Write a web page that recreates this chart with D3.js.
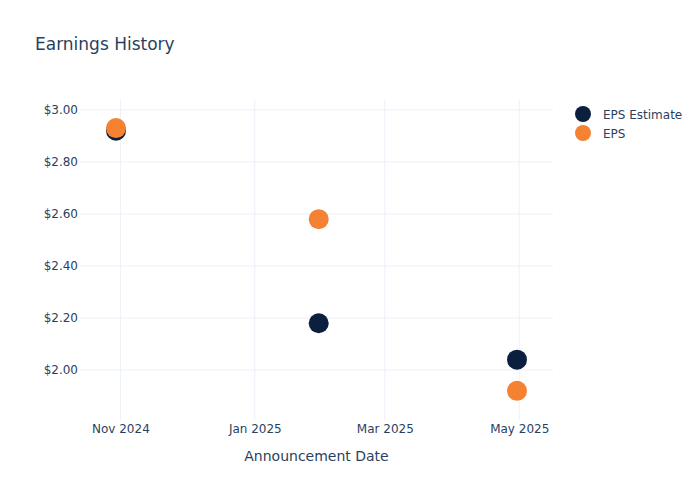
<!DOCTYPE html>
<html>
<head>
<meta charset="utf-8">
<script src="https://cdn.jsdelivr.net/npm/d3@7"></script>
<style>
  body { margin: 0; background: #fff; }
  svg, svg text { font-family: "DejaVu Sans", Verdana, sans-serif; }
</style>
</head>
<body>
<svg id="chart" width="700" height="500"></svg>
<script>
const dates = ["2024-10-30", "2025-01-30", "2025-04-30"];
const epsEstimate = [2.92, 2.18, 2.04];
const eps = [2.93, 2.58, 1.92];
const yTicks = [2.0, 2.2, 2.4, 2.6, 2.8, 3.0];
const xTickDates = ["2024-11-01", "2025-01-01", "2025-03-01", "2025-05-01"];
const seriesNames = ["EPS Estimate", "EPS"];
const seriesColors = ["#0c1f3f", "#f58233"];

const parse = d3.utcParse("%Y-%m-%d");
const svg = d3.select("#chart");
const m = { l: 80, r: 147, t: 100, b: 80 };
const W = 700, H = 500;

const x = d3.scaleUtc()
  .domain([parse("2024-10-13").getTime() + 16 * 3600e3, parse("2025-05-16").getTime() + 8 * 3600e3])
  .range([m.l, W - m.r]);
const y = d3.scaleLinear().domain([1.808, 3.038]).range([H - m.b, m.t]);

const textColor = "#2a3f5f";
const gridColor = "#ebf0f8";
const fontFam = '"DejaVu Sans", Verdana, sans-serif';

// grid
svg.append("g").selectAll("line").data(yTicks).join("line")
  .attr("x1", m.l).attr("x2", W - m.r)
  .attr("y1", d => y(d)).attr("y2", d => y(d))
  .attr("stroke", gridColor).attr("stroke-width", 1);
svg.append("g").selectAll("line").data(xTickDates).join("line")
  .attr("x1", d => x(parse(d))).attr("x2", d => x(parse(d)))
  .attr("y1", m.t).attr("y2", H - m.b)
  .attr("stroke", gridColor).attr("stroke-width", 1);

// axes
const yAxis = d3.axisLeft(y).tickValues(yTicks).tickSize(0).tickPadding(2)
  .tickFormat(d => "$" + d3.format(".2f")(d));
const gy = svg.append("g").attr("transform", `translate(${m.l},0)`).call(yAxis)
  .attr("font-family", fontFam).attr("font-size", 12);
gy.select(".domain").remove();
gy.selectAll("text").attr("fill", textColor);

const xAxis = d3.axisBottom(x).tickValues(xTickDates.map(parse)).tickSize(0).tickPadding(4)
  .tickFormat(d3.utcFormat("%b %Y"));
const gx = svg.append("g").attr("transform", `translate(0,${H - m.b})`).call(xAxis)
  .attr("font-family", fontFam).attr("font-size", 12);
gx.select(".domain").remove();
gx.selectAll("text").attr("fill", textColor);

// axis title
svg.append("text").attr("x", (m.l + W - m.r) / 2).attr("y", 461)
  .attr("text-anchor", "middle").attr("fill", textColor).style("font-size", "14px")
  .text("Announcement Date");

// title
svg.append("text").attr("x", 35).attr("y", 50)
  .attr("fill", textColor).style("font-size", "17px").text("Earnings History");

// points
const series = [epsEstimate, eps];
series.forEach((vals, i) => {
  svg.append("g").selectAll("circle").data(vals).join("circle")
    .attr("cx", (d, j) => x(parse(dates[j])))
    .attr("cy", d => y(d))
    .attr("r", 10)
    .attr("fill", seriesColors[i]);
});

// legend
const lg = svg.append("g");
seriesNames.forEach((name, i) => {
  const yy = 114 + i * 19;
  lg.append("circle").attr("cx", 583).attr("cy", yy).attr("r", 8).attr("fill", seriesColors[i]);
  lg.append("text").attr("x", 603).attr("y", yy + 4.5).attr("fill", textColor)
    .style("font-size", "12px").text(name);
});
</script>
</body>
</html>
